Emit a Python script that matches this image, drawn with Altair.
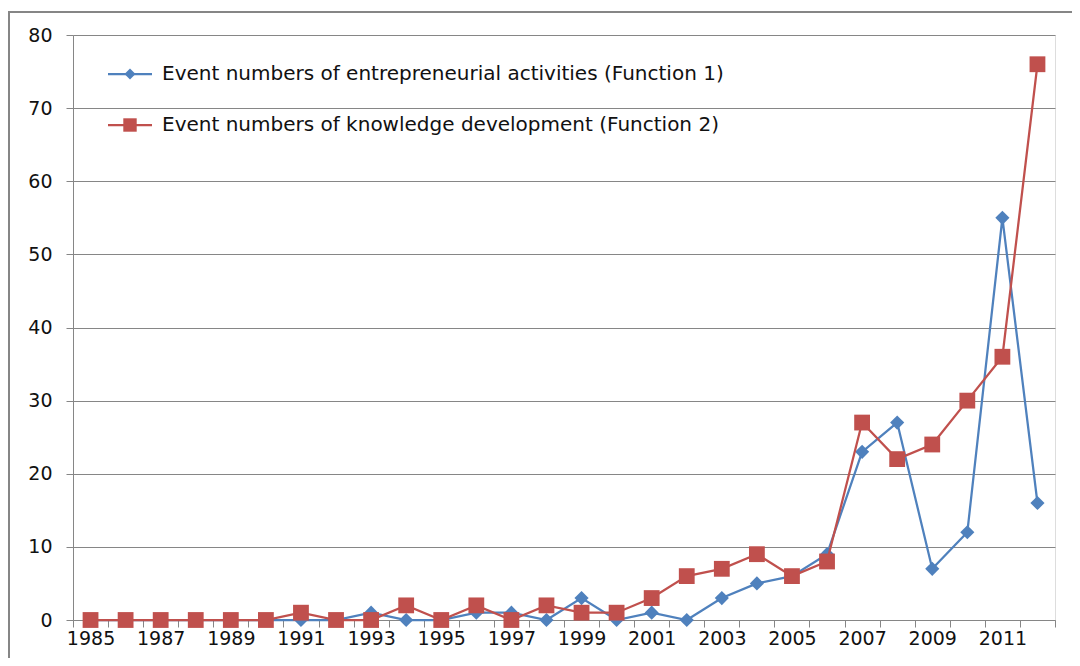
import altair as alt
import pandas as pd

years = list(range(1985, 2013))
function1 = [0, 0, 0, 0, 0, 0, 0, 0, 1, 0, 0, 1, 1, 0, 3, 0, 1, 0, 3, 5, 6, 9, 23, 27, 7, 12, 55, 16]
function2 = [0, 0, 0, 0, 0, 0, 1, 0, 0, 2, 0, 2, 0, 2, 1, 1, 3, 6, 7, 9, 6, 8, 27, 22, 24, 30, 36, 76]
series_names = [
    "Event numbers of entrepreneurial activities (Function 1)",
    "Event numbers of knowledge development (Function 2)",
]
BLUE = "#4F81BD"
RED = "#C0504D"
GRAY = "#868686"
FONT = "DejaVu Sans"
TXT = "#111111"

df1 = pd.DataFrame({"year": years, "value": function1})
df2 = pd.DataFrame({"year": years, "value": function2})

x_enc = alt.X(
    "year:O",
    bandPosition=0.5,
    scale=alt.Scale(type="band", paddingInner=0, paddingOuter=0),
    axis=alt.Axis(
        title=None,
        tickBand="extent",
        labelExpr="toNumber(datum.value) % 2 == 1 ? datum.label : ''",
        labelAngle=0,
        labelOverlap=False,
        labelFontSize=19,
        labelColor=TXT,
        labelFont=FONT,
        labelPadding=2,
        domainColor=GRAY,
        tickColor=GRAY,
        tickSize=7,
        grid=False,
    ),
)
y_enc = alt.Y(
    "value:Q",
    scale=alt.Scale(domain=[0, 80]),
    axis=alt.Axis(
        title=None,
        values=list(range(0, 81, 10)),
        labelFontSize=19,
        labelColor=TXT,
        labelFont=FONT,
        labelPadding=14,
        domainColor=GRAY,
        tickColor=GRAY,
        tickSize=7,
        gridColor=GRAY,
        gridWidth=1,
    ),
)

blue_line = alt.Chart(df1).mark_line(color=BLUE, strokeWidth=2.25).encode(x=x_enc, y=y_enc)
blue_pts = alt.Chart(df1).mark_point(shape="diamond", filled=True, color=BLUE, size=200, opacity=1).encode(x=x_enc, y=y_enc)
red_line = alt.Chart(df2).mark_line(color=RED, strokeWidth=2.25).encode(x=x_enc, y=y_enc)
red_pts = alt.Chart(df2).mark_point(shape="square", filled=True, color=RED, size=250, opacity=1).encode(x=x_enc, y=y_enc)

# custom legend
one = pd.DataFrame({"k": [0]})
legend_layers = []
for i, (name, col, shp, sz) in enumerate([(series_names[0], BLUE, "diamond", 120), (series_names[1], RED, "square", 180)]):
    yy = 39 + 51 * i
    legend_layers.append(
        alt.Chart(one).mark_rule(color=col, strokeWidth=2.25).encode(
            x=alt.value(35), x2=alt.value(79), y=alt.value(yy)
        )
    )
    legend_layers.append(
        alt.Chart(one).mark_point(shape=shp, filled=True, color=col, size=sz, opacity=1).encode(
            x=alt.value(57), y=alt.value(yy)
        )
    )
    legend_layers.append(
        alt.Chart(one).mark_text(align="left", baseline="middle", fontSize=20, font=FONT, color=TXT).encode(
            x=alt.value(89), y=alt.value(yy), text=alt.value(name)
        )
    )

frame = alt.Chart(one).mark_rect(fill=None, fillOpacity=0, stroke=GRAY, strokeWidth=2).encode(
    x=alt.value(-64), x2=alt.value(1100), y=alt.value(-23), y2=alt.value(700)
)

chart = alt.layer(
    frame, blue_line, blue_pts, red_line, red_pts, *legend_layers
).properties(
    width=982,
    height=585,
    autosize=alt.AutoSizeParams(type="none"),
    padding={"left": 65, "top": 27, "right": 17, "bottom": 38},
).configure_view(stroke=None).configure(background="white")

chart.save("out.html", embed_options={"renderer": "svg", "actions": False})
